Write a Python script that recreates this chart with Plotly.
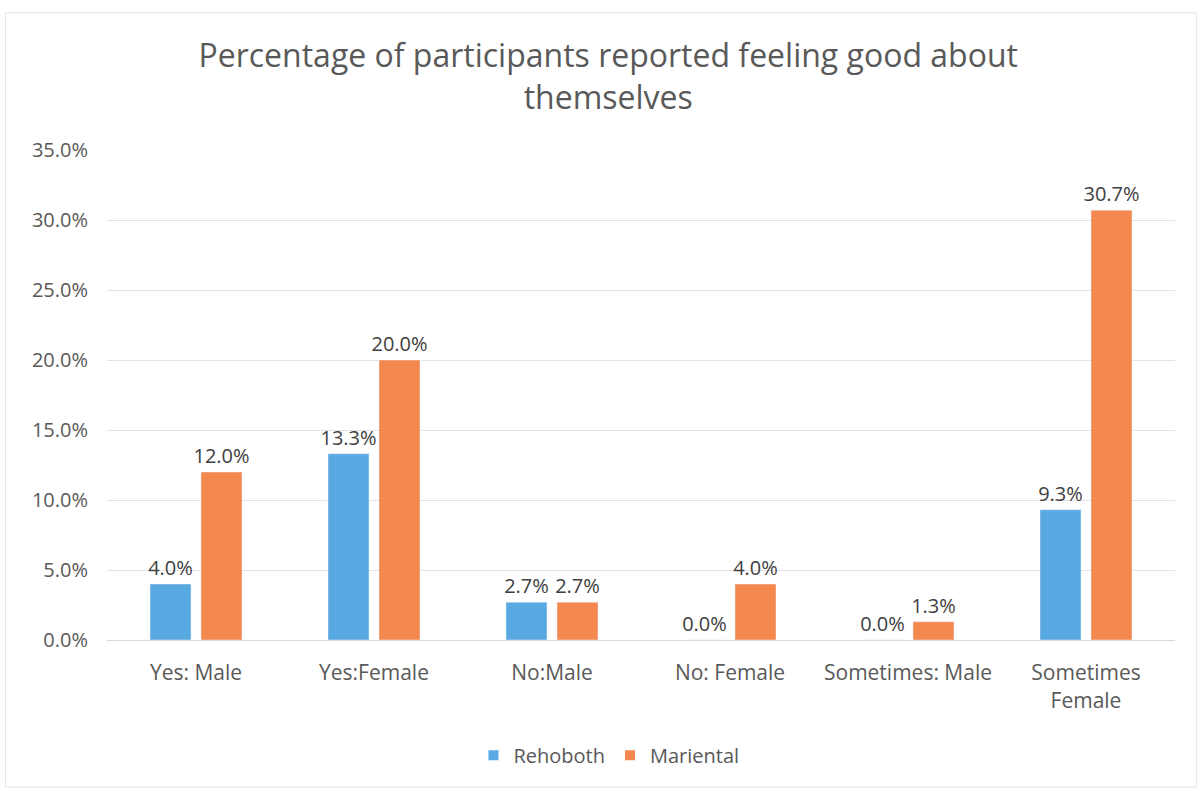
import plotly.graph_objects as go

categories = ["Yes: Male", "Yes:Female", "No:Male", "No: Female", "Sometimes: Male", "Sometimes<br>Female"]
rehoboth = [4.0, 13.3, 2.7, 0.0, 0.0, 9.3]
mariental = [12.0, 20.0, 2.7, 4.0, 1.3, 30.7]
y_ticks = [0, 5, 10, 15, 20, 25, 30, 35]
y_tick_text = [f"{v:.1f}%" for v in y_ticks]

FONT = "'Open Sans', Lato, sans-serif"
BLUE = "#58A9E2"
ORANGE = "#F5884F"
TEXT = "#595959"

fig = go.Figure()
for name, values, color in (("Rehoboth", rehoboth, BLUE), ("Mariental", mariental, ORANGE)):
    fig.add_trace(go.Bar(
        name=name, x=categories, y=values, marker_color=color,
        texttemplate="%{y:.1f}%", textposition="outside", constraintext="none",
        textfont=dict(size=20, color="#404040", family=FONT), cliponaxis=False,
        showlegend=False,
    ))

# small square legend keys
for name, color in (("Rehoboth", BLUE), ("Mariental", ORANGE)):
    fig.add_trace(go.Scatter(
        name=name, x=[None], y=[None], mode="markers",
        marker=dict(symbol="square", size=10, color=color),
        showlegend=True,
    ))

fig.update_layout(
    width=1202, height=791,
    paper_bgcolor="white", plot_bgcolor="white",
    font=dict(family=FONT, color=TEXT, size=20),
    title=dict(
        text="Percentage of participants reported feeling good about<br>themselves",
        x=0.506, xanchor="center", y=0.915, yanchor="top",
        font=dict(size=32, color=TEXT, family=FONT),
    ),
    margin=dict(l=107, r=27, t=150, b=151),
    barmode="group", bargap=0.427, bargroupgap=0.196,
    showlegend=True,
    legend=dict(
        orientation="h", x=0.47, xanchor="center", y=-0.235, yanchor="middle",
        font=dict(size=20, color=TEXT), itemwidth=30,
    ),
    xaxis=dict(
        showgrid=False, showline=True, linecolor="#D9D9D9", ticks="",
        tickfont=dict(size=21, color=TEXT), ticklabelstandoff=14,
    ),
    yaxis=dict(
        range=[0, 35], tickvals=y_ticks, ticktext=y_tick_text,
        showgrid=True, gridcolor="#E3E3E3", gridwidth=1, zeroline=False,
        showline=False, tickfont=dict(size=20, color=TEXT), ticklabelstandoff=18,
    ),
    shapes=[dict(
        type="rect", xref="paper", yref="paper",
        x0=-0.095, x1=1.02, y0=-0.3, y1=1.28,
        line=dict(color="#E6E6E6", width=1),
    )],
)

fig.write_html("out.html")
